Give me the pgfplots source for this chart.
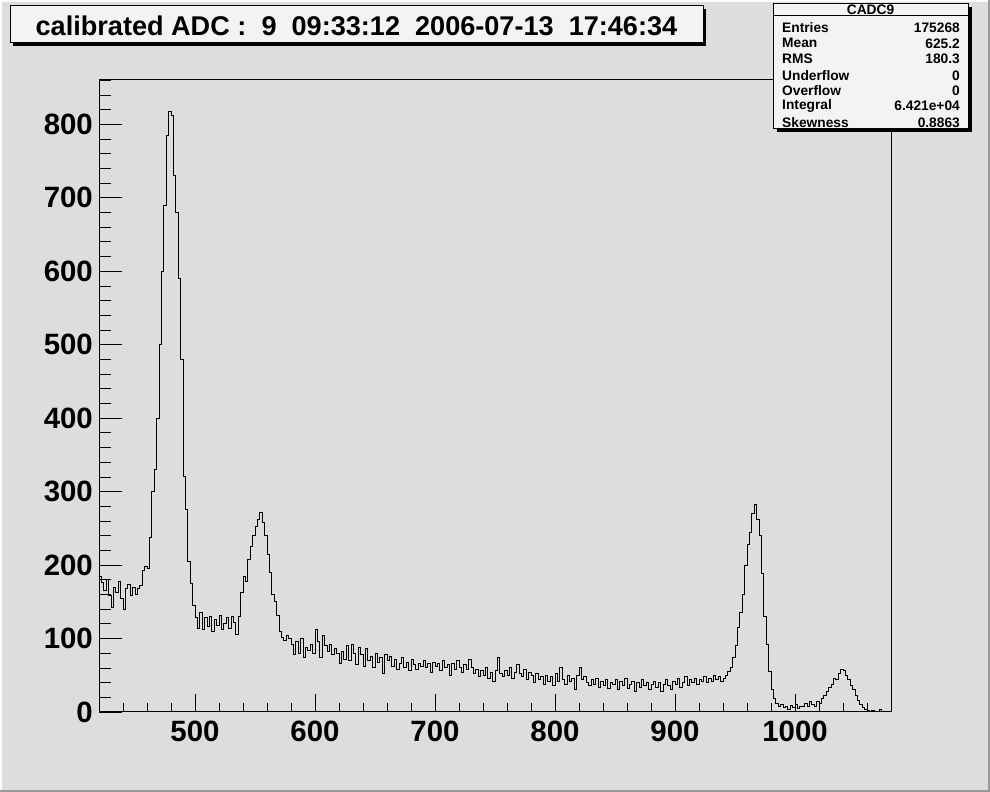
\documentclass[border=0pt]{standalone}
\usepackage{pgfplots}
\pgfplotsset{compat=1.18}
\usepackage{fontspec}
\setmainfont{Liberation Sans}
\definecolor{bgcol}{RGB}{221,221,221}
\definecolor{boxcol}{RGB}{243,243,243}
\begin{document}
\begin{tikzpicture}[x=1bp,y=1bp]
\fill[bgcol] (0,0) rectangle (990,792);
\fill[white!90!bgcol] (0,790) rectangle (990,792);
\fill[white!90!bgcol] (0,0) rectangle (2,792);
\fill[black!40] (0,0) rectangle (990,2);
\fill[black!40] (988,0) rectangle (990,792);
% title box
\fill[black] (13,746) rectangle (706,783);
\filldraw[fill=boxcol,draw=black,line width=1bp] (10,749) rectangle (703,786);
\node[font=\fontsize{27.2}{30}\selectfont\bfseries] at (356.5,766.5) {calibrated ADC :~~9~~09:33:12~~2006-07-13~~17:46:34};
\begin{axis}[
  at={(99bp,80bp)}, anchor=south west,
  scale only axis, width=792bp, height=632.5bp,
  xmin=420, xmax=1080, ymin=0, ymax=861,
  axis line style={black,line width=1bp},
  tick align=inside, tick pos=left,
  xtick={500,600,...,1000}, ytick={0,100,...,800},
  minor xtick={420,440,...,1080}, minor ytick={0,20,...,860},
  every tick/.style={black,line width=0.8bp},
  xtick style={/pgfplots/major tick length=18bp,/pgfplots/minor tick length=9bp},
  ytick style={/pgfplots/major tick length=23bp,/pgfplots/minor tick length=11.5bp},
  /pgf/number format/assume math mode=true,
  /pgf/number format/1000 sep={},
  ticklabel style={font=\fontsize{29.5}{30}\selectfont\bfseries},
  xticklabel style={anchor=north,inner sep=0pt,yshift=-9bp},
  yticklabel style={anchor=east,inner sep=0pt,xshift=-6bp},
]
\addplot[const plot, black, line width=1bp] table {
x y
420 184
422 176
424 166
426 180
428 158
430 142
432 170
434 162
436 178
438 154
440 140
442 168
444 174
446 158
448 170
450 160
452 168
454 172
456 192
458 198
460 196
462 238
464 300
466 330
468 400
470 500
472 600
474 690
476 785
478 818
480 812
482 730
484 680
486 590
488 480
490 320
492 275
494 205
496 175
498 145
500 128
502 114
504 135
506 112
508 128
510 116
512 130
514 110
516 126
518 118
520 132
522 112
524 120
526 128
528 114
530 130
532 122
534 106
536 130
538 162
540 185
542 178
544 208
546 225
548 240
550 252
552 262
554 272
556 258
558 240
560 215
562 190
564 160
566 150
568 132
570 110
572 102
574 98
576 104
578 100
580 92
582 78
584 96
586 80
588 100
590 74
592 88
594 84
596 92
598 80
600 112
602 96
604 74
606 104
608 90
610 82
612 92
614 78
616 86
618 80
620 66
622 82
624 72
626 90
628 70
630 92
632 80
634 64
636 88
638 78
640 62
642 86
644 70
646 76
648 60
650 80
652 68
654 74
656 52
658 78
660 70
662 76
664 62
666 72
668 58
670 66
672 74
674 60
676 68
678 56
680 72
682 64
684 58
686 66
688 62
690 70
692 60
694 66
696 54
698 68
700 62
702 66
704 56
706 70
708 60
710 64
712 50
714 66
716 58
718 70
720 60
722 54
724 64
726 58
728 72
730 60
732 52
734 58
736 48
738 56
740 50
742 60
744 46
746 54
748 42
750 56
752 74
754 52
756 48
758 56
760 50
762 60
764 46
766 54
768 64
770 52
772 48
774 58
776 44
778 54
780 50
782 40
784 52
786 44
788 48
790 38
792 50
794 42
796 48
798 36
800 52
802 42
804 60
806 44
808 38
810 50
812 42
814 46
816 30
818 50
820 60
822 44
824 48
826 40
828 36
830 44
832 38
834 46
836 34
838 42
840 36
842 44
844 32
846 40
848 38
850 44
852 30
854 42
856 36
858 46
860 32
862 38
864 42
866 28
868 40
870 34
872 44
874 36
876 40
878 30
880 38
882 42
884 34
886 40
888 28
890 38
892 44
894 36
896 30
898 42
900 38
902 46
904 34
906 40
908 48
910 36
912 44
914 40
916 46
918 38
920 44
922 42
924 48
926 40
928 46
930 42
932 50
934 44
936 48
938 42
940 46
942 50
944 55
946 60
948 74
950 90
952 115
954 136
956 160
958 200
960 228
962 245
964 270
966 282
968 262
970 240
972 188
974 130
976 92
978 55
980 30
982 18
984 12
986 8
988 10
990 6
992 8
994 4
996 9
998 6
1000 10
1002 5
1004 8
1006 7
1008 12
1010 8
1012 14
1014 10
1016 8
1018 14
1020 12
1022 18
1024 22
1026 28
1028 34
1030 38
1032 46
1034 44
1036 52
1038 58
1040 56
1042 50
1044 44
1046 36
1048 30
1050 22
1052 16
1054 10
1056 6
1058 4
1060 2
1062 1
1064 2
1066 0
1068 1
1070 3
1072 0
1074 0
1076 0
1078 0
1080 0
};
\end{axis}
% stats box (drawn over the frame)
\fill[black] (777,660) rectangle (972,784.5);
\filldraw[fill=boxcol,draw=black,line width=1bp] (773,663.5) rectangle (968,788.5);
\draw[black,line width=0.8bp] (773,777) -- (968,777);
\begin{scope}[every node/.style={font=\fontsize{13.8}{15}\selectfont\bfseries,inner sep=0pt}]
\node at (870.5,782.7) {CADC9};
\node[anchor=west] at (782,764) {Entries};   \node[anchor=east] at (960,764) {175268};
\node[anchor=west] at (782,748.7) {Mean};      \node[anchor=east] at (960,748.7) {625.2};
\node[anchor=west] at (782,733.5) {RMS};       \node[anchor=east] at (960,733.5) {180.3};
\node[anchor=west] at (782,716.5) {Underflow}; \node[anchor=east] at (960,716.5) {0};
\node[anchor=west] at (782,701.0) {Overflow};  \node[anchor=east] at (960,701.0) {0};
\node[anchor=west] at (782,686.0) {Integral};  \node[anchor=east] at (960,686.0) {6.421e+04};
\node[anchor=west] at (782,669.5) {Skewness};  \node[anchor=east] at (960,669.5) {0.8863};
\end{scope}
\end{tikzpicture}
\end{document}
